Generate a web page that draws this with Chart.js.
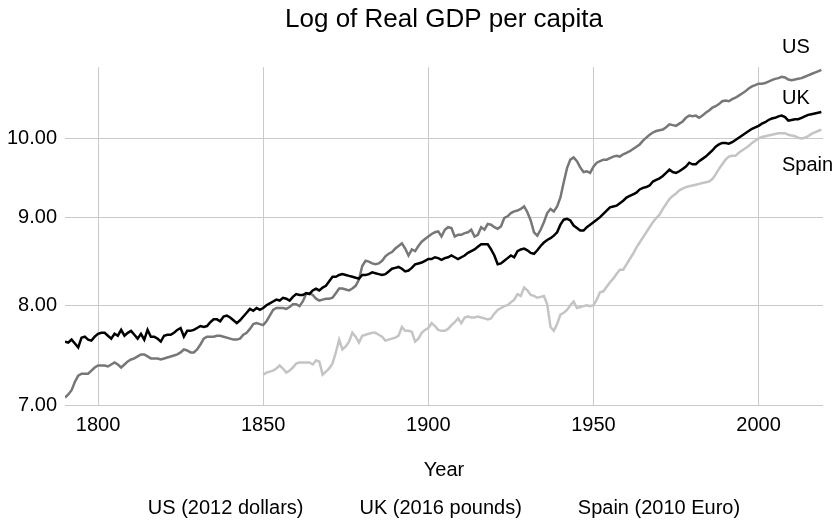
<!DOCTYPE html>
<html>
<head>
<meta charset="utf-8">
<title>Log of Real GDP per capita</title>
<script src="https://cdn.jsdelivr.net/npm/chart.js@4.4.1/dist/chart.umd.min.js"></script>
<style>
  html, body { margin: 0; padding: 0; background: #fff; }
  canvas { display: block; }
</style>
</head>
<body>
<canvas id="gdpChart" width="837" height="528"></canvas>
<script>
// first year of each series, tick values and captions
const firstYear = 1790;
const spainFirstYear = 1850;
const xTicks = [1800, 1850, 1900, 1950, 2000];
const yTicks = [7, 8, 9, 10];
const seriesNames = ['US', 'UK', 'Spain'];
const legendLabels = ['US (2012 dollars)', 'UK (2016 pounds)', 'Spain (2010 Euro)'];

// log of real GDP per capita, one value per year from 1790 to 2019
const usValues = [
  7.07, 7.10, 7.14, 7.22, 7.28, 7.30, 7.30, 7.30, 7.33, 7.36,
  7.38, 7.38, 7.38, 7.37, 7.39, 7.41, 7.39, 7.36, 7.39, 7.42,
  7.44, 7.45, 7.47, 7.49, 7.49, 7.47, 7.45, 7.45, 7.45, 7.44,
  7.45, 7.46, 7.47, 7.48, 7.49, 7.51, 7.54, 7.53, 7.51, 7.51,
  7.54, 7.59, 7.65, 7.67, 7.67, 7.67, 7.68, 7.68, 7.67, 7.66,
  7.65, 7.64, 7.64, 7.65, 7.69, 7.71, 7.75, 7.80, 7.81, 7.80,
  7.79, 7.83, 7.89, 7.95, 7.97, 7.97, 7.97, 7.96, 7.98, 8.01,
  8.01, 7.99, 8.04, 8.12, 8.13, 8.11, 8.07, 8.05, 8.06, 8.07,
  8.07, 8.08, 8.13, 8.18, 8.18, 8.17, 8.16, 8.18, 8.21, 8.28,
  8.43, 8.49, 8.48, 8.46, 8.45, 8.46, 8.49, 8.54, 8.57, 8.59,
  8.63, 8.66, 8.69, 8.63, 8.55, 8.62, 8.60, 8.66, 8.71, 8.74,
  8.77, 8.80, 8.82, 8.83, 8.77, 8.85, 8.88, 8.87, 8.77, 8.79,
  8.79, 8.81, 8.82, 8.85, 8.77, 8.79, 8.88, 8.85, 8.92, 8.91,
  8.88, 8.86, 8.89, 8.99, 9.01, 9.05, 9.07, 9.08, 9.10, 9.13,
  9.06, 8.96, 8.82, 8.78, 8.85, 8.94, 9.05, 9.10, 9.07, 9.13,
  9.24, 9.43, 9.61, 9.72, 9.75, 9.70, 9.62, 9.56, 9.57, 9.55,
  9.63, 9.68, 9.70, 9.72, 9.72, 9.74, 9.76, 9.77, 9.76, 9.79,
  9.81, 9.83, 9.86, 9.89, 9.92, 9.97, 10.01, 10.05, 10.08, 10.10,
  10.11, 10.12, 10.15, 10.19, 10.18, 10.17, 10.20, 10.23, 10.28, 10.31,
  10.30, 10.31, 10.28, 10.31, 10.35, 10.38, 10.42, 10.44, 10.47, 10.51,
  10.52, 10.51, 10.54, 10.56, 10.59, 10.62, 10.65, 10.69, 10.72, 10.74,
  10.76, 10.76, 10.77, 10.79, 10.81, 10.83, 10.84, 10.86, 10.85, 10.82,
  10.81, 10.82, 10.83, 10.84, 10.86, 10.88, 10.90, 10.92, 10.94, 10.96
];

const ukValues = [
  7.62, 7.61, 7.64, 7.60, 7.56, 7.66, 7.67, 7.64, 7.63, 7.67,
  7.70, 7.71, 7.71, 7.68, 7.65, 7.70, 7.68, 7.74, 7.68, 7.71,
  7.73, 7.69, 7.65, 7.70, 7.64, 7.74, 7.67, 7.67, 7.65, 7.62,
  7.68, 7.69, 7.69, 7.71, 7.74, 7.76, 7.67, 7.73, 7.73, 7.74,
  7.76, 7.78, 7.77, 7.78, 7.82, 7.85, 7.85, 7.83, 7.88, 7.89,
  7.87, 7.84, 7.81, 7.84, 7.88, 7.92, 7.96, 7.94, 7.97, 7.95,
  7.97, 8.00, 8.02, 8.04, 8.06, 8.05, 8.08, 8.07, 8.05, 8.09,
  8.12, 8.11, 8.11, 8.13, 8.12, 8.16, 8.18, 8.16, 8.19, 8.21,
  8.26, 8.31, 8.31, 8.33, 8.34, 8.33, 8.32, 8.31, 8.30, 8.29,
  8.33, 8.33, 8.34, 8.36, 8.35, 8.34, 8.33, 8.34, 8.37, 8.40,
  8.41, 8.42, 8.40, 8.37, 8.38, 8.41, 8.45, 8.46, 8.47, 8.49,
  8.51, 8.51, 8.53, 8.52, 8.50, 8.52, 8.53, 8.55, 8.53, 8.51,
  8.53, 8.55, 8.58, 8.60, 8.62, 8.65, 8.68, 8.68, 8.68, 8.62,
  8.55, 8.45, 8.46, 8.49, 8.52, 8.55, 8.53, 8.60, 8.62, 8.63,
  8.61, 8.58, 8.57, 8.61, 8.66, 8.70, 8.73, 8.75, 8.78, 8.82,
  8.91, 8.97, 8.98, 8.96, 8.90, 8.87, 8.84, 8.84, 8.88, 8.91,
  8.94, 8.97, 9.00, 9.04, 9.08, 9.12, 9.13, 9.14, 9.17, 9.20,
  9.24, 9.26, 9.28, 9.30, 9.34, 9.36, 9.37, 9.39, 9.44, 9.46,
  9.48, 9.51, 9.55, 9.59, 9.56, 9.55, 9.57, 9.60, 9.63, 9.68,
  9.66, 9.66, 9.70, 9.73, 9.76, 9.80, 9.84, 9.89, 9.92, 9.94,
  9.94, 9.93, 9.95, 9.98, 10.01, 10.04, 10.07, 10.10, 10.13, 10.15,
  10.17, 10.20, 10.22, 10.25, 10.27, 10.28, 10.30, 10.31, 10.29, 10.24,
  10.25, 10.26, 10.26, 10.28, 10.30, 10.32, 10.33, 10.34, 10.35, 10.36
];

// Spain starts in 1850
const spainValues = [
  7.29, 7.31, 7.32, 7.33, 7.35, 7.38, 7.35, 7.31, 7.33, 7.36,
  7.40, 7.41, 7.41, 7.41, 7.41, 7.39, 7.43, 7.42, 7.29, 7.32,
  7.35, 7.40, 7.51, 7.64, 7.54, 7.57, 7.62, 7.71, 7.67, 7.61,
  7.68, 7.69, 7.70, 7.71, 7.71, 7.69, 7.67, 7.63, 7.64, 7.65,
  7.66, 7.68, 7.77, 7.73, 7.73, 7.72, 7.62, 7.65, 7.71, 7.74,
  7.76, 7.81, 7.78, 7.74, 7.73, 7.73, 7.75, 7.79, 7.82, 7.86,
  7.81, 7.87, 7.88, 7.87, 7.87, 7.88, 7.87, 7.86, 7.85, 7.86,
  7.91, 7.95, 7.97, 7.99, 8.00, 8.03, 8.06, 8.12, 8.10, 8.19,
  8.16, 8.11, 8.10, 8.08, 8.09, 8.10, 8.01, 7.77, 7.73, 7.80,
  7.90, 7.92, 7.95, 8.00, 8.04, 7.97, 7.98, 7.99, 8.00, 7.99,
  8.00, 8.06, 8.14, 8.15, 8.20, 8.25, 8.29, 8.34, 8.39, 8.39,
  8.45, 8.51, 8.57, 8.64, 8.70, 8.76, 8.82, 8.88, 8.94, 8.99,
  9.03, 9.10, 9.16, 9.22, 9.26, 9.29, 9.33, 9.35, 9.37, 9.38,
  9.39, 9.40, 9.41, 9.42, 9.43, 9.44, 9.47, 9.53, 9.60, 9.66,
  9.72, 9.76, 9.77, 9.77, 9.81, 9.84, 9.87, 9.90, 9.94, 9.97,
  10.00, 10.02, 10.03, 10.04, 10.05, 10.06, 10.07, 10.07, 10.07, 10.05,
  10.04, 10.03, 10.01, 10.00, 10.01, 10.03, 10.06, 10.08, 10.10, 10.12
];

const toPoints = (start, values) => values.map((v, i) => ({ x: start + i, y: v }));

Chart.defaults.font.family = '"Liberation Sans", Helvetica, Arial, sans-serif';
Chart.defaults.color = '#000';

// series names at the right edge and the caption row under the axis title
const captions = {
  id: 'captions',
  afterDraw(chart) {
    const { ctx, chartArea } = chart;
    ctx.save();
    ctx.font = '20px "Liberation Sans", Helvetica, Arial, sans-serif';
    ctx.fillStyle = '#000';
    ctx.textBaseline = 'middle';
    ctx.textAlign = 'left';
    const nameY = [47, 98, 165];
    seriesNames.forEach((name, i) => ctx.fillText(name, chartArea.right - 41, nameY[i]));

    const gap = 56;
    const widths = legendLabels.map(t => ctx.measureText(t).width);
    const total = widths.reduce((a, b) => a + b, 0) + gap * (widths.length - 1);
    let x = (chartArea.left + chartArea.right) / 2 - total / 2;
    legendLabels.forEach((t, i) => {
      ctx.fillText(t, x, chart.height - 20);
      x += widths[i] + gap;
    });
    ctx.restore();
  }
};

const gridColor = '#c9c9cc';

new Chart(document.getElementById('gdpChart'), {
  type: 'line',
  data: {
    datasets: [
      { label: seriesNames[1], data: toPoints(firstYear, ukValues), borderColor: '#000000' },
      { label: seriesNames[0], data: toPoints(firstYear, usValues), borderColor: '#777777' },
      { label: seriesNames[2], data: toPoints(spainFirstYear, spainValues), borderColor: '#c4c4c4' }
    ]
  },
  options: {
    responsive: false,
    animation: false,
    layout: { padding: { left: 7, right: 14, top: 0, bottom: 40 } },
    elements: {
      line: { borderWidth: 2.5, tension: 0, fill: false },
      point: { radius: 0 }
    },
    plugins: {
      legend: { display: false },
      tooltip: { enabled: false },
      title: {
        display: true,
        fullSize: false,
        text: 'Log of Real GDP per capita',
        font: { size: 26, weight: 'normal' },
        color: '#000',
        padding: { top: 4, bottom: 32 }
      }
    },
    scales: {
      x: {
        type: 'linear',
        min: 1790,
        max: 2019.5,
        afterBuildTicks: axis => { axis.ticks = xTicks.map(value => ({ value })); },
        ticks: {
          font: { size: 20 },
          color: '#000',
          padding: 8,
          maxRotation: 0,
          callback: v => String(v)
        },
        grid: { color: gridColor, lineWidth: 1, drawTicks: false },
        border: { display: false },
        title: {
          display: true,
          text: 'Year',
          font: { size: 20 },
          color: '#000',
          padding: { top: 13, bottom: 6 }
        }
      },
      y: {
        type: 'logarithmic',
        min: 7,
        max: 11,
        afterBuildTicks: axis => { axis.ticks = yTicks.map(value => ({ value })); },
        afterFit: axis => { axis.width = 58; },
        ticks: {
          font: { size: 20 },
          color: '#000',
          padding: 8,
          callback: v => Number(v).toFixed(2)
        },
        grid: { color: gridColor, lineWidth: 1, drawTicks: false },
        border: { display: false }
      }
    }
  },
  plugins: [captions]
});
</script>
</body>
</html>
